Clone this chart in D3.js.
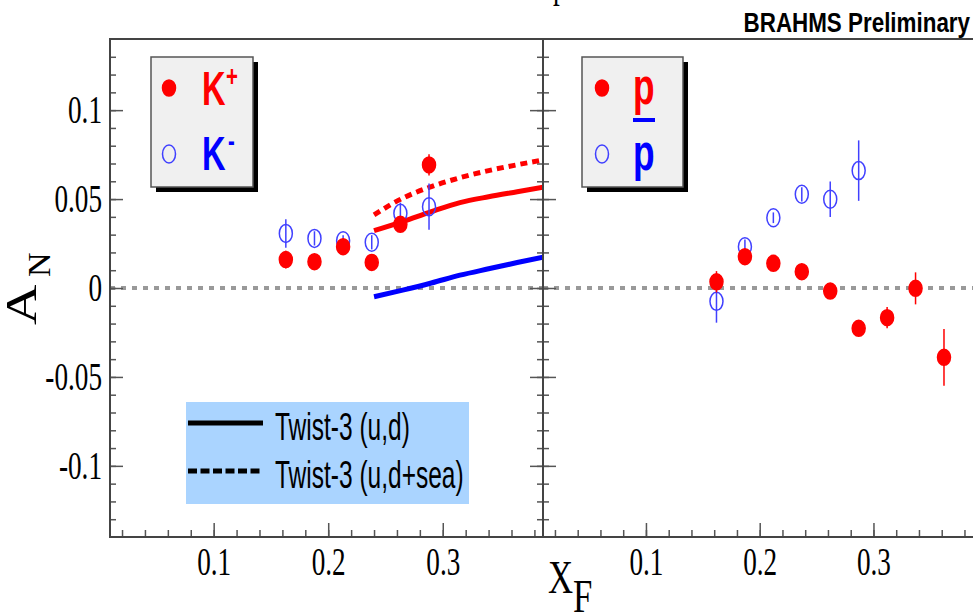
<!DOCTYPE html>
<html>
<head>
<meta charset="utf-8">
<script src="https://cdn.jsdelivr.net/npm/d3@7"></script>
<style>
body { margin: 0; background: #fff; }
svg { display: block; }
</style>
</head>
<body>
<div id="chart"></div>
<script>
// values
var kaonXF = [0.163, 0.188, 0.213, 0.238, 0.263, 0.288];
var kPlusAN = [0.0160, 0.0148, 0.0232, 0.0144, 0.0358, 0.0692];
var kPlusErr = [0.005, 0.003, 0.004, 0.004, 0.004, 0.006];
var kMinusAN = [0.0307, 0.0279, 0.0266, 0.0257, 0.0420, 0.0457];
var kMinusErr = [0.008, 0.004, 0.003, 0.004, 0.006, 0.013];

var protonXF = [0.162, 0.187, 0.212, 0.237, 0.262, 0.287, 0.312, 0.337, 0.362];
var protonAN = [0.0035, 0.0176, 0.0139, 0.0092, -0.0017, -0.0227, -0.0167, -0.0002, -0.0390];
var protonErr = [0.006, 0.004, 0.003, 0.004, 0.004, 0.004, 0.006, 0.009, 0.016];
var pbarXF = [0.162, 0.187, 0.212, 0.237, 0.262, 0.287];
var pbarAN = [-0.0075, 0.0232, 0.0395, 0.0527, 0.0499, 0.0660];
var pbarErr = [0.012, 0.004, 0.003, 0.004, 0.010, 0.017];

var twistXF = [0.24, 0.265, 0.29, 0.315, 0.34, 0.365, 0.3875];
var twistKPlus = [0.0322, 0.0373, 0.0429, 0.0480, 0.0513, 0.0541, 0.0566];
var twistKPlusSea = [0.0411, 0.0505, 0.0570, 0.0620, 0.0660, 0.0693, 0.0720];
var twistKMinus = [-0.0049, -0.0012, 0.0028, 0.0072, 0.0108, 0.0143, 0.0173];

var xTickValues = [0.1, 0.2, 0.3];
var yTickValues = [-0.1, -0.05, 0, 0.05, 0.1];
var yTickLabels = ["-0.1", "-0.05", "0", "0.05", "0.1"];

var W = 973, H = 613;
var plotTop = 39, plotBottom = 537;
var SX = 0.68; // the picture is squeezed sideways

var svg = d3.select("#chart").append("svg")
  .attr("width", W)
  .attr("height", H);

var y = d3.scaleLinear().domain([-0.14, 0.14]).range([plotBottom, plotTop]);
var xLeft = d3.scaleLinear().domain([0.0095, 0.3875]).range([110, 543]);
var xRight = d3.scaleLinear().domain([0.0095, 0.3875]).range([543, 973]);

function label(g, x, yy, str, size, opt) {
  opt = opt || {};
  return g.append("text")
    .attr("transform", "translate(" + x + "," + yy + ") scale(" + (opt.sx || SX) + ",1)" + (opt.rotate ? " rotate(" + opt.rotate + ")" : ""))
    .attr("font-family", opt.family || "Liberation Sans")
    .attr("font-weight", opt.weight || "normal")
    .attr("font-size", size)
    .attr("fill", opt.color || "#000")
    .attr("text-anchor", opt.anchor || "start")
    .text(str);
}

var minorX = d3.range(0.02, 0.39, 0.02);
var minorY = d3.range(-13, 14).map(function(i) { return i / 100; });

function styleAxis(g) {
  g.select(".domain").remove();
  g.selectAll(".tick line").attr("stroke", "#555").attr("stroke-width", 1.5);
}

function drawPanel(x, clipId, withLabels) {
  var r = x.range();
  var g = svg.append("g");

  svg.append("clipPath").attr("id", clipId)
    .append("rect").attr("x", r[0]).attr("y", plotTop).attr("width", r[1] - r[0]).attr("height", plotBottom - plotTop);

  // zero line
  g.append("line")
    .attr("x1", r[0]).attr("x2", r[1])
    .attr("y1", y(0)).attr("y2", y(0))
    .attr("stroke", "#999").attr("stroke-width", 4)
    .attr("stroke-dasharray", "5,6");

  // x axis ticks (inside)
  g.append("g").attr("transform", "translate(0," + plotBottom + ")")
    .call(d3.axisBottom(x).tickValues(minorX).tickSizeInner(-7).tickSizeOuter(0).tickFormat(""))
    .call(styleAxis);
  var xa = g.append("g").attr("transform", "translate(0," + plotBottom + ")")
    .call(d3.axisBottom(x).tickValues(xTickValues).tickSizeInner(-14).tickSizeOuter(0).tickPadding(10).tickFormat(d3.format(".1f")))
    .call(styleAxis);
  xa.selectAll(".tick text")
    .attr("font-family", "Liberation Serif").attr("font-size", 40).attr("fill", "#000")
    .attr("transform", "scale(" + SX + ",1)");

  // y ticks at left edge of this panel
  g.append("g").attr("transform", "translate(" + r[0] + ",0)")
    .call(d3.axisLeft(y).tickValues(minorY).tickSizeInner(-6).tickSizeOuter(0).tickFormat(""))
    .call(styleAxis);
  var ya = g.append("g").attr("transform", "translate(" + r[0] + ",0)")
    .call(d3.axisLeft(y).tickValues(yTickValues).tickSizeInner(-13).tickSizeOuter(0).tickPadding(8)
      .tickFormat(function(d, i) { return withLabels ? yTickLabels[i] : ""; }))
    .call(styleAxis);
  ya.selectAll(".tick text")
    .attr("font-family", "Liberation Serif").attr("font-size", 40).attr("fill", "#000")
    .attr("x", 0)
    .attr("transform", "translate(-8,0) scale(" + SX + ",1)");

  return g;
}

var left = drawPanel(xLeft, "clipL", true);
var right = drawPanel(xRight, "clipR", false);

// right-hand ticks of the left panel
left.append("g").attr("transform", "translate(543,0)")
  .call(d3.axisRight(y).tickValues(minorY).tickSizeInner(-6).tickSizeOuter(0).tickFormat(""))
  .call(styleAxis);
left.append("g").attr("transform", "translate(543,0)")
  .call(d3.axisRight(y).tickValues(yTickValues).tickSizeInner(-13).tickSizeOuter(0).tickFormat(""))
  .call(styleAxis);

// frames
var frame = svg.append("g").attr("stroke", "#444").attr("stroke-width", 2).attr("fill", "none");
frame.append("rect").attr("x", 110).attr("y", plotTop).attr("width", 433).attr("height", plotBottom - plotTop);
frame.append("polyline").attr("points", "973," + plotTop + " 543," + plotTop + " 543," + plotBottom + " 973," + plotBottom);

// twist-3 curves
function curve(g, x, xs, ys, color, dash, clip) {
  var line = d3.line()
    .x(function(d) { return x(d[0]); })
    .y(function(d) { return y(d[1]); })
    .curve(d3.curveMonotoneX);
  g.append("path")
    .datum(d3.zip(xs, ys))
    .attr("d", line)
    .attr("fill", "none")
    .attr("stroke", color)
    .attr("stroke-width", 5)
    .attr("stroke-dasharray", dash)
    .attr("clip-path", "url(#" + clip + ")");
}
curve(left, xLeft, twistXF, twistKPlusSea, "#ff0000", "7,5", "clipL");
curve(left, xLeft, twistXF, twistKPlus, "#ff0000", null, "clipL");
curve(left, xLeft, twistXF, twistKMinus, "#0000ff", null, "clipL");

// data points
function points(g, x, xs, ys, errs, filled) {
  var data = d3.zip(xs, ys, errs);
  var col = filled ? "#ff0000" : "#4040ff";
  g.append("g").selectAll("line").data(data).enter().append("line")
    .attr("x1", function(d) { return x(d[0]); })
    .attr("x2", function(d) { return x(d[0]); })
    .attr("y1", function(d) { return y(d[1] - d[2]); })
    .attr("y2", function(d) { return y(d[1] + d[2]); })
    .attr("stroke", col).attr("stroke-width", 1.5);
  g.append("g").selectAll("ellipse").data(data).enter().append("ellipse")
    .attr("cx", function(d) { return x(d[0]); })
    .attr("cy", function(d) { return y(d[1]); })
    .attr("rx", filled ? 6.5 : 6.5)
    .attr("ry", filled ? 8 : 9)
    .attr("fill", filled ? col : "none")
    .attr("stroke", col)
    .attr("stroke-width", 1.5);
}
points(left, xLeft, kaonXF, kMinusAN, kMinusErr, false);
points(left, xLeft, kaonXF, kPlusAN, kPlusErr, true);
points(right, xRight, pbarXF, pbarAN, pbarErr, false);
points(right, xRight, protonXF, protonAN, protonErr, true);

// legend boxes
function legendBox(x0, y0, w, h) {
  svg.append("rect").attr("x", x0 + 5).attr("y", y0 + 5).attr("width", w).attr("height", h).attr("fill", "#000");
  svg.append("rect").attr("x", x0).attr("y", y0).attr("width", w).attr("height", h)
    .attr("fill", "#f0f0f0").attr("stroke", "#555").attr("stroke-width", 1.5);
}
function marker(cx, cy, filled) {
  svg.append("ellipse").attr("cx", cx).attr("cy", cy)
    .attr("rx", 6.5).attr("ry", filled ? 8 : 9)
    .attr("fill", filled ? "#ff0000" : "none")
    .attr("stroke", filled ? "#ff0000" : "#4040ff").attr("stroke-width", 1.5);
}

legendBox(151, 57, 102, 130);
marker(169, 88, true);
marker(169, 154, false);
label(svg, 202, 105, "K", 48, { weight: "bold", color: "#ff0000" });
label(svg, 226, 86, "+", 30, { weight: "bold", color: "#ff0000" });
label(svg, 202, 170, "K", 48, { weight: "bold", color: "#0000ff" });
label(svg, 228, 151, "-", 30, { weight: "bold", color: "#0000ff" });

legendBox(582, 57, 101, 130);
marker(602, 88, true);
marker(602, 154, false);
label(svg, 633, 104, "p", 52, { weight: "bold", color: "#ff0000" });
svg.append("rect").attr("x", 633).attr("y", 118).attr("width", 22).attr("height", 4).attr("fill", "#0000ff");
label(svg, 633, 170, "p", 52, { weight: "bold", color: "#0000ff" });

// model legend
svg.append("rect").attr("x", 186).attr("y", 402).attr("width", 283).attr("height", 102).attr("fill", "#aad4ff");
svg.append("line").attr("x1", 188).attr("x2", 263).attr("y1", 423).attr("y2", 423)
  .attr("stroke", "#000").attr("stroke-width", 5);
svg.append("line").attr("x1", 188).attr("x2", 263).attr("y1", 471).attr("y2", 471)
  .attr("stroke", "#000").attr("stroke-width", 5).attr("stroke-dasharray", "9,3.5");
label(svg, 275, 440, "Twist-3 (u,d)", 38, { sx: 0.645 });
label(svg, 275, 488, "Twist-3 (u,d+sea)", 38, { sx: 0.645 });

// axis titles
label(svg, 36, 325, "A", 56, { family: "Liberation Serif", rotate: -90, sx: 0.8 });
label(svg, 50, 277, "N", 34, { family: "Liberation Serif", rotate: -90, sx: 0.95 });
label(svg, 548, 593, "X", 47, { family: "Liberation Serif", sx: 0.74 });
label(svg, 573, 612, "F", 47, { family: "Liberation Serif", sx: 0.74 });

// header
label(svg, 970, 32, "BRAHMS Preliminary", 28, { weight: "bold", anchor: "end", sx: 0.8 });
label(svg, 553, -3, "p", 40, { family: "Liberation Serif" });
</script>
</body>
</html>
